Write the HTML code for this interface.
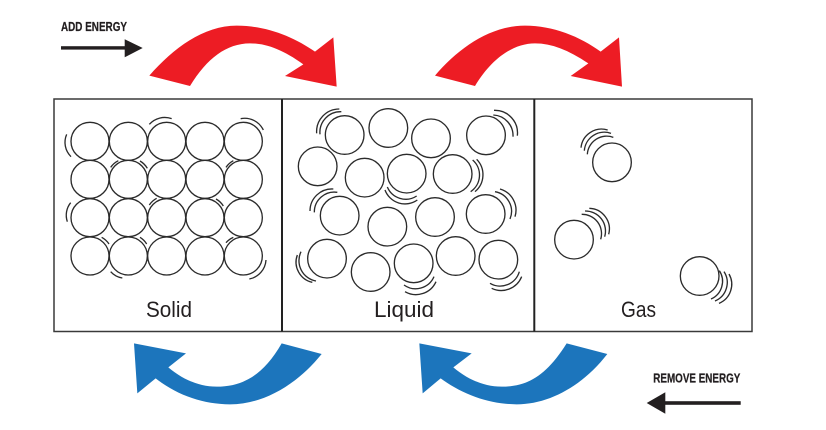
<!DOCTYPE html>
<html>
<head>
<meta charset="utf-8">
<style>
html,body{margin:0;padding:0;background:#fff;width:826px;height:430px;overflow:hidden}
svg{display:block;filter:blur(0.3px)}
text{font-family:"Liberation Sans",sans-serif;fill:#231f20}
</style>
</head>
<body>
<svg width="826" height="430" viewBox="0 0 826 430" xmlns="http://www.w3.org/2000/svg">
<rect width="826" height="430" fill="#fff"/>

<!-- Boxes -->
<rect x="54" y="99" width="698" height="232.5" fill="none" stroke="#3a3a3a" stroke-width="1.5"/>
<line x1="282" y1="99" x2="282" y2="331.5" stroke="#222" stroke-width="2"/>
<line x1="534.3" y1="99" x2="534.3" y2="331.5" stroke="#222" stroke-width="2"/>

<!-- Add energy -->
<text x="61" y="31" font-size="13" font-weight="bold" textLength="66" lengthAdjust="spacingAndGlyphs" stroke="#231f20" stroke-width="0.25">ADD ENERGY</text>
<rect x="61" y="46.2" width="65" height="3.4" fill="#231f20"/>
<polygon points="124.7,39.3 142.7,48 124.7,57.3" fill="#231f20"/>

<!-- Remove energy -->
<text x="653.3" y="382.7" font-size="13" font-weight="bold" textLength="87" lengthAdjust="spacingAndGlyphs" stroke="#231f20" stroke-width="0.25">REMOVE ENERGY</text>
<rect x="663" y="401.2" width="77.7" height="3.6" fill="#231f20"/>
<polygon points="646.7,403 665.3,392.3 665.3,413.7" fill="#231f20"/>

<!-- Red arrows -->
<g transform="translate(40,5) scale(0.33333)" fill="#ed1c24">
<path d="M328 212 C400 130 490 62 590 62 C680 62 760 95 825 140 L880 97 L890 245 L735 213 L790 178 C730 135 680 115 630 115 C560 115 500 160 450 243 Z"/>
</g>
<g transform="translate(420,5) scale(0.33333)" fill="#ed1c24">
<path d="M45 212 C115 130 210 62 315 62 C400 62 480 95 542 140 L597 97 L606 245 L452 213 L505 175 C445 135 395 115 345 115 C280 115 215 160 165 243 Z"/>
</g>

<!-- Blue arrows -->
<g transform="translate(120,335) scale(0.33333)" fill="#1c75bc">
<path d="M485 25 L605 57 C530 150 430 208 330 208 C250 208 170 180 107 130 L52 175 L42 25 L198 55 L145 97 C190 135 240 155 290 155 C370 155 430 120 485 25 Z"/>
</g>
<g transform="translate(410,335) scale(0.33333)" fill="#1c75bc">
<path d="M470 25 L592 57 C520 150 420 208 320 208 C240 208 160 180 92 130 L38 175 L28 25 L185 55 L130 97 C175 135 225 155 275 155 C355 155 410 120 470 25 Z"/>
</g>

<!-- Solid -->
<g transform="translate(40,90) scale(0.33333)" fill="none" stroke="#2b2b2b" stroke-width="4">
<circle cx="150" cy="154" r="57"/><circle cx="265" cy="154" r="57"/><circle cx="380" cy="154" r="57"/><circle cx="495" cy="154" r="57"/><circle cx="610" cy="154" r="57"/>
<circle cx="150" cy="268" r="57"/><circle cx="265" cy="268" r="57"/><circle cx="380" cy="268" r="57"/><circle cx="495" cy="268" r="57"/><circle cx="610" cy="268" r="57"/>
<circle cx="150" cy="383" r="57"/><circle cx="265" cy="383" r="57"/><circle cx="380" cy="383" r="57"/><circle cx="495" cy="383" r="57"/><circle cx="610" cy="383" r="57"/>
<circle cx="150" cy="498" r="57"/><circle cx="265" cy="498" r="57"/><circle cx="380" cy="498" r="57"/><circle cx="495" cy="498" r="57"/><circle cx="610" cy="498" r="57"/>
<path d="M80 133 A60 60 0 0 0 93 200"/>
<path d="M328 103 A62 62 0 0 1 395 86"/>
<path d="M602 86 A62 62 0 0 1 670 120"/>
<path d="M92 338 A60 60 0 0 0 82 395"/>
<path d="M212 545 A60 60 0 0 0 247 564"/>
<path d="M628 567 A62 62 0 0 0 678 510"/>
<path d="M212 232 A60 60 0 0 1 235 212"/>
<path d="M300 213 A60 60 0 0 1 322 235"/>
<path d="M558 232 A60 60 0 0 1 580 212"/>
<path d="M328 345 A60 60 0 0 1 350 325"/>
<path d="M528 327 A60 60 0 0 1 550 348"/>
<path d="M185 442 A60 60 0 0 1 207 462"/>
<path d="M300 442 A60 60 0 0 1 320 462"/>
<path d="M558 458 A60 60 0 0 1 580 442"/>
</g>
<text x="146" y="317" font-size="22" textLength="46" lengthAdjust="spacingAndGlyphs">Solid</text>

<!-- Liquid -->
<g transform="translate(280,95) scale(0.33333)" fill="none" stroke="#2b2b2b" stroke-width="4">
<circle cx="194" cy="120" r="58"/><circle cx="325" cy="99" r="58"/><circle cx="453" cy="130" r="58"/><circle cx="618" cy="121" r="58"/>
<circle cx="113" cy="214" r="58"/><circle cx="254" cy="248" r="58"/><circle cx="380" cy="236" r="58"/><circle cx="518" cy="237" r="58"/>
<circle cx="179" cy="362" r="58"/><circle cx="322" cy="395" r="58"/><circle cx="465" cy="366" r="58"/><circle cx="617" cy="357" r="58"/>
<circle cx="141" cy="491" r="58"/><circle cx="272" cy="531" r="58"/><circle cx="401" cy="505" r="58"/><circle cx="527" cy="483" r="58"/><circle cx="655" cy="494" r="58"/>
<path d="M110 115 A68 68 0 0 1 178 42"/><path d="M120 118 A62 62 0 0 1 184 50"/>
<path d="M642 46 A68 68 0 0 1 712 122"/><path d="M640 60 A62 62 0 0 1 699 125"/>
<path d="M578 195 A60 60 0 0 1 572 290"/><path d="M590 193 A66 66 0 0 1 585 290"/>
<path d="M315 285 A64 64 0 0 0 412 315"/><path d="M322 276 A60 60 0 0 0 410 303"/>
<path d="M90 348 A66 66 0 0 1 160 282"/><path d="M103 352 A60 60 0 0 1 172 292"/>
<path d="M645 290 A60 60 0 0 1 690 372"/><path d="M660 282 A66 66 0 0 1 705 365"/>
<path d="M63 470 A62 62 0 0 0 108 558"/><path d="M52 480 A62 62 0 0 0 97 562"/>
<path d="M372 570 A60 60 0 0 0 462 545"/><path d="M375 590 A66 66 0 0 0 468 560"/>
<path d="M630 565 A60 60 0 0 0 718 530"/><path d="M635 580 A66 66 0 0 0 725 545"/>
</g>
<text x="374" y="317" font-size="22" textLength="60" lengthAdjust="spacingAndGlyphs">Liquid</text>

<!-- Gas -->
<g transform="translate(530,95) scale(0.33333)" fill="none" stroke="#2b2b2b" stroke-width="4">
<circle cx="246" cy="202" r="58"/><circle cx="132" cy="434" r="58"/><circle cx="509" cy="543" r="58"/>
<path d="M153 158 A62 62 0 0 1 233 105"/><path d="M163 167 A60 60 0 0 1 243 115"/><path d="M172 178 A58 58 0 0 1 250 127"/>
<path d="M155 358 A58 58 0 0 1 212 433"/><path d="M165 348 A60 60 0 0 1 224 425"/><path d="M178 340 A62 62 0 0 1 236 418"/>
<path d="M568 527 A58 58 0 0 1 543 612"/><path d="M582 530 A60 60 0 0 1 555 618"/><path d="M597 537 A62 62 0 0 1 567 625"/>
</g>
<text x="621" y="317" font-size="22" textLength="35" lengthAdjust="spacingAndGlyphs">Gas</text>
</svg>
</body>
</html>
